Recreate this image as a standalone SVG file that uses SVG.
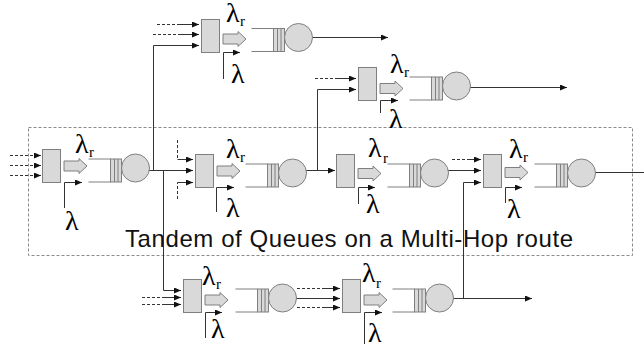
<svg xmlns="http://www.w3.org/2000/svg" xmlns:xlink="http://www.w3.org/1999/xlink" width="644" height="344" viewBox="0 0 644 344">
  <style>
    .bx { fill: #d9d9d9; stroke: #7f7f7f; stroke-width: 1; }
    .ql { fill: none; stroke: #7f7f7f; stroke-width: 1; }
    .cn { fill: none; stroke: #333; stroke-width: 1; }
    .dsh { fill: none; stroke: #333; stroke-width: 1; stroke-dasharray: 3 2; }
    .frame { fill: none; stroke: #8a8a8a; stroke-width: 1; stroke-dasharray: 3 2; }
    .lam { font-family: "Liberation Serif", "DejaVu Serif", serif; font-size: 28px; fill: #000; }
    .sub { font-family: "Liberation Serif", "DejaVu Serif", serif; font-size: 15px; fill: #000; }
    .title { font-family: "Liberation Sans", Arial, sans-serif; font-size: 24px; fill: #111; }
  </style>
  <defs>
    <marker id="ah" markerUnits="userSpaceOnUse" markerWidth="8" markerHeight="6" refX="7" refY="3" orient="auto">
      <path d="M0,0 L7,3 L0,6 z" fill="#111"/>
    </marker>
    <!-- block arrow, origin at left end / centre line -->
    <polygon id="fa" class="bx" points="0,-5 15,-5 15,-7.5 23,0 15,7.5 15,5 0,5"/>
    <!-- buffer + server, origin at left of the buffer strips / bottom line -->
    <g id="q">
      <path class="ql" d="M-22,-23 H0 M-22,0 H0"/>
      <rect class="bx" x="0" y="-23" width="11" height="23"/>
      <path class="ql" d="M4,-23 V0 M7.5,-23 V0"/>
      <circle class="bx" cx="25" cy="-14" r="14"/>
    </g>
    <rect id="box" class="bx" width="18" height="33"/>
  </defs>

  <!-- dashed frame around the multi-hop route -->
  <rect class="frame" x="28.5" y="127.5" width="604" height="128"/>
  <text class="title" x="125" y="247" textLength="448" lengthAdjust="spacing">Tandem of Queues on a Multi-Hop route</text>

  <g id="connectors">
    <!-- main route -->
    <path class="cn" d="M148,170.5 H193" marker-end="url(#ah)"/>
    <path class="cn" d="M306,170.5 H335" marker-end="url(#ah)"/>
    <path class="cn" d="M447,170.5 H481" marker-end="url(#ah)"/>
    <path class="cn" d="M594,172.5 H644"/>
    <!-- branches off the main route -->
    <path class="cn" d="M153.5,170.5 V45.5 H199" marker-end="url(#ah)"/>
    <path class="cn" d="M163.5,170.5 V290.5 H181" marker-end="url(#ah)"/>
    <path class="cn" d="M317.5,170.5 V89.5 H356" marker-end="url(#ah)"/>
    <path class="cn" d="M463.5,298.5 V182.5 H481" marker-end="url(#ah)"/>
    <!-- outputs -->
    <path class="cn" d="M312,37.5 H388" marker-end="url(#ah)"/>
    <path class="cn" d="M470,87.5 H567" marker-end="url(#ah)"/>
    <path class="cn" d="M295,298.5 H340" marker-end="url(#ah)"/>
    <path class="cn" d="M453,298.5 H532" marker-end="url(#ah)"/>
    <!-- external traffic (dashed) -->
    <path class="dsh" d="M10,155.5 H36"/><path class="cn" d="M36,155.5 H41" marker-end="url(#ah)"/>
    <path class="dsh" d="M10,165.5 H36"/><path class="cn" d="M36,165.5 H41" marker-end="url(#ah)"/>
    <path class="dsh" d="M10,175.5 H36"/><path class="cn" d="M36,175.5 H41" marker-end="url(#ah)"/>
    <path class="dsh" d="M177.5,140 V159.5"/><path class="cn" d="M177.5,159.5 H193" marker-end="url(#ah)"/>
    <path class="dsh" d="M177.5,199 V182.5"/><path class="cn" d="M177.5,182.5 H193" marker-end="url(#ah)"/>
    <path class="dsh" d="M452,159.5 H468"/><path class="cn" d="M468,159.5 H481" marker-end="url(#ah)"/>
    <path class="dsh" d="M157,24.5 H178"/><path class="cn" d="M178,24.5 H199" marker-end="url(#ah)"/>
    <path class="dsh" d="M153,34.5 H178"/><path class="cn" d="M178,34.5 H199" marker-end="url(#ah)"/>
    <path class="dsh" d="M315,78.5 H336"/><path class="cn" d="M336,78.5 H356" marker-end="url(#ah)"/>
    <path class="dsh" d="M142,297.5 H165"/><path class="cn" d="M165,297.5 H181" marker-end="url(#ah)"/>
    <path class="dsh" d="M142,304.5 H165"/><path class="cn" d="M165,304.5 H181" marker-end="url(#ah)"/>
    <path class="dsh" d="M297,288.5 H324"/><path class="cn" d="M324,288.5 H340" marker-end="url(#ah)"/>
    <path class="dsh" d="M297,307.5 H324"/><path class="cn" d="M324,307.5 H340" marker-end="url(#ah)"/>
  </g>

  <g id="node-a">
    <use href="#box" x="42.5" y="149.5"/>
    <use href="#fa" x="64" y="166"/>
    <use href="#q" x="110.5" y="182"/>
    <text class="lam" x="75" y="153">λ</text><text class="sub" x="89" y="157">r</text>
    <path class="cn" d="M64.5,208 V182.5 H82" marker-end="url(#ah)"/>
    <text class="lam" x="65" y="230">λ</text>
  </g>

  <g id="node-b">
    <use href="#box" x="195.5" y="154.5"/>
    <use href="#fa" x="217" y="171"/>
    <use href="#q" x="267.5" y="187"/>
    <text class="lam" x="226" y="158">λ</text><text class="sub" x="240" y="162">r</text>
    <path class="cn" d="M216.5,212 V187.5 H234" marker-end="url(#ah)"/>
    <text class="lam" x="226" y="217">λ</text>
  </g>

  <g id="node-c">
    <use href="#box" x="336.5" y="154.5"/>
    <use href="#fa" x="358" y="173.5"/>
    <use href="#q" x="409.5" y="187"/>
    <text class="lam" x="368" y="157">λ</text><text class="sub" x="383" y="163">r</text>
    <path class="cn" d="M358.5,204 V187.5 H375" marker-end="url(#ah)"/>
    <text class="lam" x="366" y="213">λ</text>
  </g>

  <g id="node-d">
    <use href="#box" x="483.5" y="154.5"/>
    <use href="#fa" x="505" y="172.5"/>
    <use href="#q" x="556.5" y="187"/>
    <text class="lam" x="509" y="158">λ</text><text class="sub" x="523" y="162">r</text>
    <path class="cn" d="M505.5,203 V187.5 H522" marker-end="url(#ah)"/>
    <text class="lam" x="507" y="218">λ</text>
  </g>

  <g id="node-e">
    <use href="#box" x="201.5" y="19.5"/>
    <use href="#fa" x="223" y="39"/>
    <use href="#q" x="273.5" y="51.5"/>
    <text class="lam" x="226" y="22">λ</text><text class="sub" x="240" y="26">r</text>
    <path class="cn" d="M223.5,79 V52.5 H240" marker-end="url(#ah)"/>
    <text class="lam" x="231" y="83">λ</text>
  </g>

  <g id="node-f">
    <use href="#box" x="358.5" y="67.5"/>
    <use href="#fa" x="380" y="88.5"/>
    <use href="#q" x="431.5" y="100"/>
    <text class="lam" x="390" y="73">λ</text><text class="sub" x="404" y="77">r</text>
    <path class="cn" d="M380.5,113 V100.5 H398" marker-end="url(#ah)"/>
    <text class="lam" x="389" y="128">λ</text>
  </g>

  <g id="node-g">
    <use href="#box" x="183.5" y="279.5"/>
    <use href="#fa" x="205" y="300"/>
    <use href="#q" x="257.5" y="312"/>
    <text class="lam" x="202" y="285">λ</text><text class="sub" x="216" y="289">r</text>
    <path class="cn" d="M205.5,338 V312.5 H222" marker-end="url(#ah)"/>
    <text class="lam" x="211" y="338">λ</text>
  </g>

  <g id="node-h">
    <use href="#box" x="342.5" y="279.5"/>
    <use href="#fa" x="364" y="300"/>
    <use href="#q" x="414.5" y="312"/>
    <text class="lam" x="362" y="282">λ</text><text class="sub" x="376" y="288">r</text>
    <path class="cn" d="M364.5,344 V312.5 H382" marker-end="url(#ah)"/>
    <text class="lam" x="368" y="342">λ</text>
  </g>
</svg>
